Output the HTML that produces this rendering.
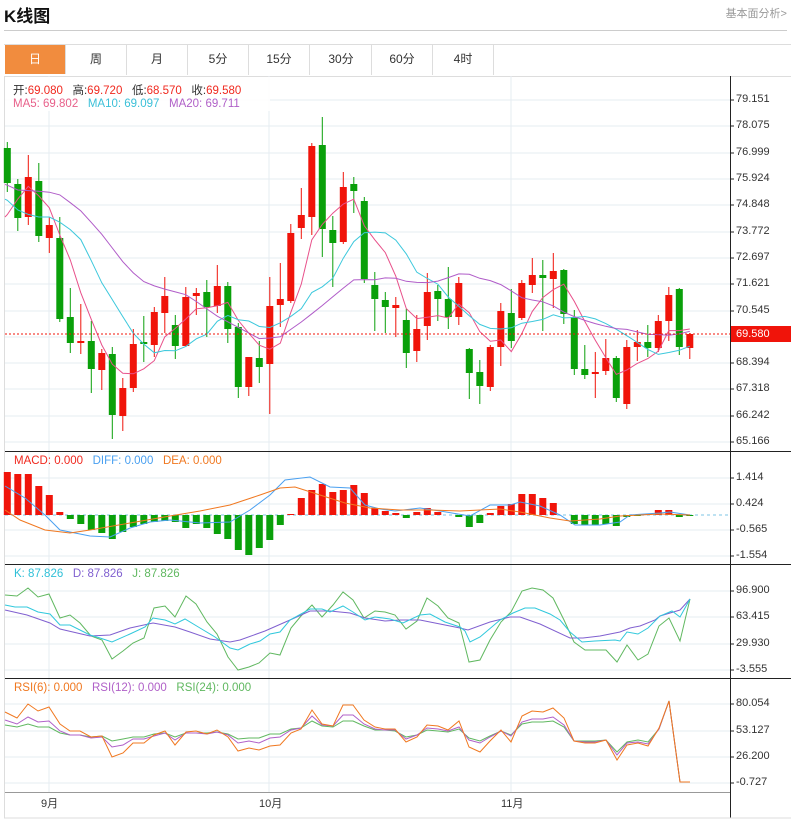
<!DOCTYPE html>
<html><head><meta charset="utf-8"><style>
body{margin:0;background:#fff;width:791px;height:819px;overflow:hidden;font-family:"Liberation Sans","Noto Sans CJK SC",sans-serif;position:relative}
.t{position:absolute;white-space:nowrap}
.tab{position:absolute;top:44px;height:31px;width:61px;line-height:31px;text-align:center;font-size:12px;color:#333;border-right:1px solid #ddd;box-sizing:border-box}
.ax{position:absolute;left:736px;font-size:11px;color:#333}
.lg{position:absolute;font-size:11.5px}
</style></head><body>
<div class="t" style="left:4px;top:2px;font-size:17px;font-weight:bold;color:#111">K线图</div>
<div class="t" style="right:4px;top:5px;font-size:11px;color:#999">基本面分析&gt;</div>
<div style="position:absolute;left:4px;right:4px;top:30px;height:1px;background:#ccc"></div>
<div style="position:absolute;left:4px;right:0;top:44px;height:31px;border-top:1px solid #ddd;border-bottom:1px solid #ddd"></div>
<div class="tab" style="left:5px;background:#F18C3E;color:#fff;top:45px;height:29px;line-height:29px">日</div>
<div class="tab" style="left:66px">周</div>
<div class="tab" style="left:127px">月</div>
<div class="tab" style="left:188px">5分</div>
<div class="tab" style="left:249px">15分</div>
<div class="tab" style="left:311px">30分</div>
<div class="tab" style="left:372px">60分</div>
<div class="tab" style="left:433px">4时</div>
<svg id="s" width="791" height="819" style="position:absolute;left:0;top:0"></svg>
<div style="position:absolute;left:5px;top:77px;width:265px;height:34px;background:rgba(255,255,255,0.85)"></div>
<div class="lg" style="left:13px;top:82px;color:#333">开:<span style="color:#f0281e">69.080</span>&nbsp;&nbsp; 高:<span style="color:#f0281e">69.720</span>&nbsp;&nbsp; 低:<span style="color:#f0281e">68.570</span>&nbsp;&nbsp; 收:<span style="color:#f0281e">69.580</span></div>
<div class="lg" style="left:13px;top:98px"><span style="color:#e8608a">MA5: 69.802</span>&nbsp;&nbsp; <span style="color:#3cc0d8">MA10: 69.097</span>&nbsp;&nbsp; <span style="color:#b060c8">MA20: 69.711</span></div>
<div class="lg" style="left:14px;top:455px"><span style="color:#f0281e">MACD: 0.000</span>&nbsp;&nbsp; <span style="color:#4aa0f0">DIFF: 0.000</span>&nbsp;&nbsp; <span style="color:#f07820">DEA: 0.000</span></div>
<div class="lg" style="left:14px;top:568px"><span style="color:#30c0d8">K: 87.826</span>&nbsp;&nbsp; <span style="color:#8060d0">D: 87.826</span>&nbsp;&nbsp; <span style="color:#60b860">J: 87.826</span></div>
<div class="lg" style="left:14px;top:682px"><span style="color:#f07820">RSI(6): 0.000</span>&nbsp;&nbsp; <span style="color:#b060c8">RSI(12): 0.000</span>&nbsp;&nbsp; <span style="color:#60b860">RSI(24): 0.000</span></div>
<div class="ax" style="top:93px">79.151</div><div class="ax" style="top:119px">78.075</div><div class="ax" style="top:146px">76.999</div><div class="ax" style="top:172px">75.924</div><div class="ax" style="top:198px">74.848</div><div class="ax" style="top:225px">73.772</div><div class="ax" style="top:251px">72.697</div><div class="ax" style="top:277px">71.621</div><div class="ax" style="top:304px">70.545</div><div class="ax" style="top:356px">68.394</div><div class="ax" style="top:382px">67.318</div><div class="ax" style="top:409px">66.242</div><div class="ax" style="top:435px">65.166</div>
<div class="t" style="left:731px;top:326px;width:60px;height:16px;background:#f0140a;color:#fff;font-size:11px;line-height:16px;padding-left:5px;box-sizing:border-box">69.580</div>
<div class="ax" style="top:471px">1.414</div><div class="ax" style="top:497px">0.424</div><div class="ax" style="top:523px">-0.565</div><div class="ax" style="top:549px">-1.554</div>
<div class="ax" style="top:584px">96.900</div><div class="ax" style="top:610px">63.415</div><div class="ax" style="top:637px">29.930</div><div class="ax" style="top:663px">-3.555</div>
<div class="ax" style="top:697px">80.054</div><div class="ax" style="top:724px">53.127</div><div class="ax" style="top:750px">26.200</div><div class="ax" style="top:776px">-0.727</div>
<div class="t" style="left:41px;top:795px;font-size:11px;color:#333">9月</div>
<div class="t" style="left:259px;top:795px;font-size:11px;color:#333">10月</div>
<div class="t" style="left:501px;top:795px;font-size:11px;color:#333">11月</div>
<script>
var s=document.getElementById('s'),h='';
function L(x1,y1,x2,y2,c,w,d){h+='<line x1="'+x1+'" y1="'+y1+'" x2="'+x2+'" y2="'+y2+'" stroke="'+c+'" stroke-width="'+(w||1)+'"'+(d?' stroke-dasharray="'+d+'"':'')+'/>';}
function R(x,y,w,hh,c){h+='<rect x="'+x+'" y="'+y+'" width="'+w+'" height="'+Math.max(hh,1)+'" fill="'+c+'"/>';}
function P(p,c){h+='<polyline fill="none" stroke="'+c+'" stroke-width="1" points="'+p.map(function(a){return a.join(',')}).join(' ')+'"/>';}
var G='#e6ecf2';
[100,126,153,179,205,232,258,284,311,337,363,389,416,442,478,504,530,556,591,617,644,670,704,731,757,783].forEach(function(y){L(5,y,730,y,G);});
[49,269,511].forEach(function(x){L(x,76,x,792,G);});
L(4.5,76,4.5,818,'#ddd');L(730.5,76,730.5,818,'#222');
L(5,451.5,791,451.5,'#222');L(5,564.5,791,564.5,'#222');L(5,678.5,791,678.5,'#222');L(5,792.5,730,792.5,'#999');L(4,818,791,818,'#ddd');
[100,126,153,179,205,232,258,284,311,337,363,389,416,442,478,504,530,556,591,617,644,670,704,731,757,783].forEach(function(y){L(730,y,734,y,'#222');});
var C=[[148,183,142,192,'g'],[184,218,179,231,'g'],[217,177,155,225,'r'],[181,236,163,242,'g'],[238,225,217,253,'r'],[238,319,217,322,'g'],[317,343,288,353,'g'],[343,341,304,354,'r'],[341,369,321,393,'g'],[370,353,349,390,'r'],[354,415,347,439,'g'],[416,388,378,431,'r'],[388,344,329,392,'r'],[342,344,316,362,'g'],[345,312,307,357,'r'],[313,296,277,333,'r'],[325,346,315,359,'g'],[346,297,287,347,'r'],[296,293,288,315,'r'],[292,307,280,337,'g'],[306,286,265,313,'r'],[286,329,282,343,'g'],[327,387,323,398,'g'],[387,357,357,396,'r'],[358,367,341,383,'g'],[364,306,277,414,'r'],[305,299,263,327,'r'],[301,233,224,303,'r'],[228,215,188,239,'r'],[217,146,143,235,'r'],[145,229,117,257,'g'],[230,243,216,287,'g'],[242,187,172,244,'r'],[184,191,177,213,'g'],[201,279,197,283,'g'],[285,299,272,331,'g'],[300,307,292,333,'g'],[308,305,297,337,'r'],[320,353,309,368,'g'],[351,329,315,362,'r'],[326,292,273,340,'r'],[291,299,285,321,'g'],[299,317,267,329,'g'],[317,283,277,325,'r'],[349,373,348,399,'g'],[372,386,360,404,'g'],[387,347,345,391,'r'],[347,311,303,366,'r'],[313,341,289,348,'g'],[318,283,280,320,'r'],[285,275,258,293,'r'],[275,278,260,331,'g'],[279,271,253,308,'r'],[270,314,269,324,'g'],[317,369,310,375,'g'],[369,375,345,379,'g'],[374,372,352,398,'r'],[371,358,339,375,'r'],[358,398,356,402,'g'],[404,347,340,409,'r'],[347,342,330,361,'r'],[342,348,325,357,'g'],[348,321,315,352,'r'],[321,295,287,341,'r'],[289,347,288,355,'g'],[348,334,333,359,'r']];
function X(i){return 7.3+10.5*i;}
var RC='#f0140a',GC='#0aa00a';
C.forEach(function(c,i){var x=X(i),col=c[4]=='r'?RC:GC;L(x,c[2],x,c[3],col);var t=Math.min(c[0],c[1]),b=Math.max(c[0],c[1]);R(x-3.5,t,7,b-t,col);});
var cl=C.map(function(c){return c[1];});
function MA(n){var out=[];for(var i=0;i<cl.length;i++){var a=Math.max(0,i-n+1),s=0;for(var j=a;j<=i;j++)s+=cl[j];out.push([X(i).toFixed(1),(s/(i-a+1)).toFixed(1)]);}return out;}
function interp(pts,x){for(var k=0;k<pts.length-1;k++){if(x<=pts[k+1][0]){var t=(x-pts[k][0])/(pts[k+1][0]-pts[k][0]);return pts[k][1]+t*(pts[k+1][1]-pts[k][1]);}}return pts[pts.length-1][1];}
var m5=MA(5),m10=MA(10),m20=MA(20);
var e5=[[0,222],[7,215],[17,200],[28,186],[38,195],[50,208]];
var e10=[[0,197],[7,200],[20,212],[37,217],[50,217],[65,225],[80,238],[90,258],[110,300]];
var e20=[[0,183],[7,185],[17,190],[47,191.6],[60,195],[80,210],[100,232],[123,262],[140,280],[157,287],[187,295],[217,316],[260,339],[280,337],[300,323],[323,305],[353,280],[364,279]];
for(var i=0;i<4;i++)m5[i][1]=interp(e5,X(i)).toFixed(1);
for(var i=0;i<10;i++)m10[i][1]=interp(e10,X(i)).toFixed(1);
for(var i=0;i<34;i++)m20[i][1]=interp(e20,X(i)).toFixed(1);
m5.unshift([5,interp(e5,5)]);m10.unshift([5,interp(e10,5)]);m20.unshift([5,interp(e20,5)]);
P(m5,'#e8508a');P(m10,'#3cc8dc');P(m20,'#b05cc8');
L(5,334,730,334,'#f0140a',1,'2,2');
L(5,515,730,515,'#a8d8ee',1.5,'3,3');
var M=[472,474,474,486,495,512,519,524,530,533,539,532,527,524,522,521,522,528,524,528,534,539,550,555,548,540,525,514,498,490,484,492,490,485,493,508,511,513,518,512,508,512,515,517,527,523,513,506,504,494,494,498,503,515,524,525,525,524,526,517,516,514,510,510,517,516];
M.forEach(function(v,i){var x=X(i);if(v<515)R(x-3.5,v,7,515-v,RC);else if(v>515)R(x-3.5,515,7,v-515,GC);});
P([[5,486],[25,498],[45,515],[60,530],[90,536],[110,537],[130,528],[150,522],[170,520],[200,523],[230,522],[250,510],[270,495],[285,480],[310,477],[330,487],[350,488],[365,505],[380,509],[395,511],[420,508],[440,511],[470,516],[490,505],[510,505],[520,502],[540,506],[560,515],[575,525],[600,525],[620,522],[630,515],[660,513],[670,512],[690,515]],'#4aa0f0');
P([[5,510],[20,520],[45,530],[70,533],[90,530],[130,523],[170,516],[200,511],[230,505],[260,495],[280,488],[295,487],[320,495],[345,503],[370,508],[400,510],[430,510],[460,511],[500,509],[520,512],[550,518],[570,521],[600,519],[620,516],[660,514],[690,515]],'#f07820');
P([[5,595],[17,596],[28,588],[38,597],[49,594],[60,618],[70,615],[80,623],[91,636],[102,640],[112,659],[123,651],[133,643],[144,638],[154,608],[165,606],[175,617],[186,596],[196,604],[207,622],[217,634],[228,657],[238,670],[249,667],[259,663],[270,653],[280,655],[291,628],[301,616],[312,605],[322,617],[333,605],[343,592],[353,600],[364,618],[375,611],[385,612],[395,615],[406,629],[417,621],[427,598],[438,606],[448,618],[459,623],[469,662],[480,660],[490,640],[501,622],[511,612],[522,591],[532,588],[543,590],[553,598],[564,620],[574,642],[585,650],[595,650],[606,650],[617,662],[627,645],[638,660],[648,654],[659,626],[669,618],[680,641],[690,599]],'#60b860');
P([[5,610],[27,615],[50,623],[60,629],[90,636],[110,635],[130,628],[153,623],[175,627],[190,632],[210,639],[230,642],[240,640],[265,631],[290,620],[310,611],[330,611],[350,613],[365,618],[385,621],[400,620],[420,620],[440,624],[460,628],[468,630],[490,622],[510,617],[520,617],[540,624],[570,638],[583,638],[600,636],[620,632],[630,628],[640,626],[655,620],[660,616],[680,610],[690,599]],'#8060d0');
P([[5,605],[15,607],[27,607],[38,612],[50,614],[60,625],[70,625],[90,635],[100,638],[112,642],[130,634],[145,627],[153,618],[165,620],[175,624],[185,619],[200,628],[215,637],[230,648],[238,650],[250,644],[260,641],[270,634],[280,632],[290,620],[310,609],[322,609],[330,612],[343,606],[353,612],[365,620],[375,617],[390,619],[403,623],[420,615],[430,614],[445,622],[460,627],[465,631],[470,642],[480,637],[500,620],[513,613],[525,608],[535,608],[550,614],[560,620],[570,632],[582,642],[595,641],[615,640],[620,641],[627,632],[638,634],[648,628],[660,616],[672,611],[680,617],[690,599]],'#30c8dc');
var xs=[5,17,28,38,49,60,70,80,91,102,112,123,133,144,154,165,175,186,196,207,217,228,238,249,259,270,280,291,301,312,322,333,343,353,364,375,385,395,406,417,427,438,448,459,469,480,490,501,511,522,532,543,553,564,574,585,595,606,617,627,638,648,659,669,680,690];
function Z(a){return a.map(function(v,i){return [xs[i],v];});}
P(Z([725,727,724,727,727,733,735,735,737,736,741,739,737,737,734,733,737,733,733,733,732,734,739,738,738,734,734,729,728,721,726,727,721,721,726,730,730,731,737,735,730,731,732,729,738,741,736,731,735,724,722,722,721,727,741,741,741,740,752,742,740,742,729,701,782,782]),'#60b860');
P(Z([720,724,717,722,721,731,735,735,738,737,747,745,739,739,736,733,740,733,733,734,732,735,743,741,743,738,737,730,728,716,725,726,715,715,724,729,730,730,739,735,728,729,731,727,740,743,737,731,736,722,719,719,717,725,741,742,742,740,755,743,742,744,729,701,782,782]),'#b060c8');
P(Z([712,718,704,711,707,724,731,731,737,736,757,753,743,743,735,731,745,732,731,734,730,737,751,748,750,746,745,733,729,710,724,726,705,705,720,727,729,729,742,737,725,726,730,721,747,752,741,730,742,716,711,712,708,718,741,743,743,740,760,745,743,746,728,701,782,782]),'#f07820');
s.innerHTML=h;
</script>
</body></html>
